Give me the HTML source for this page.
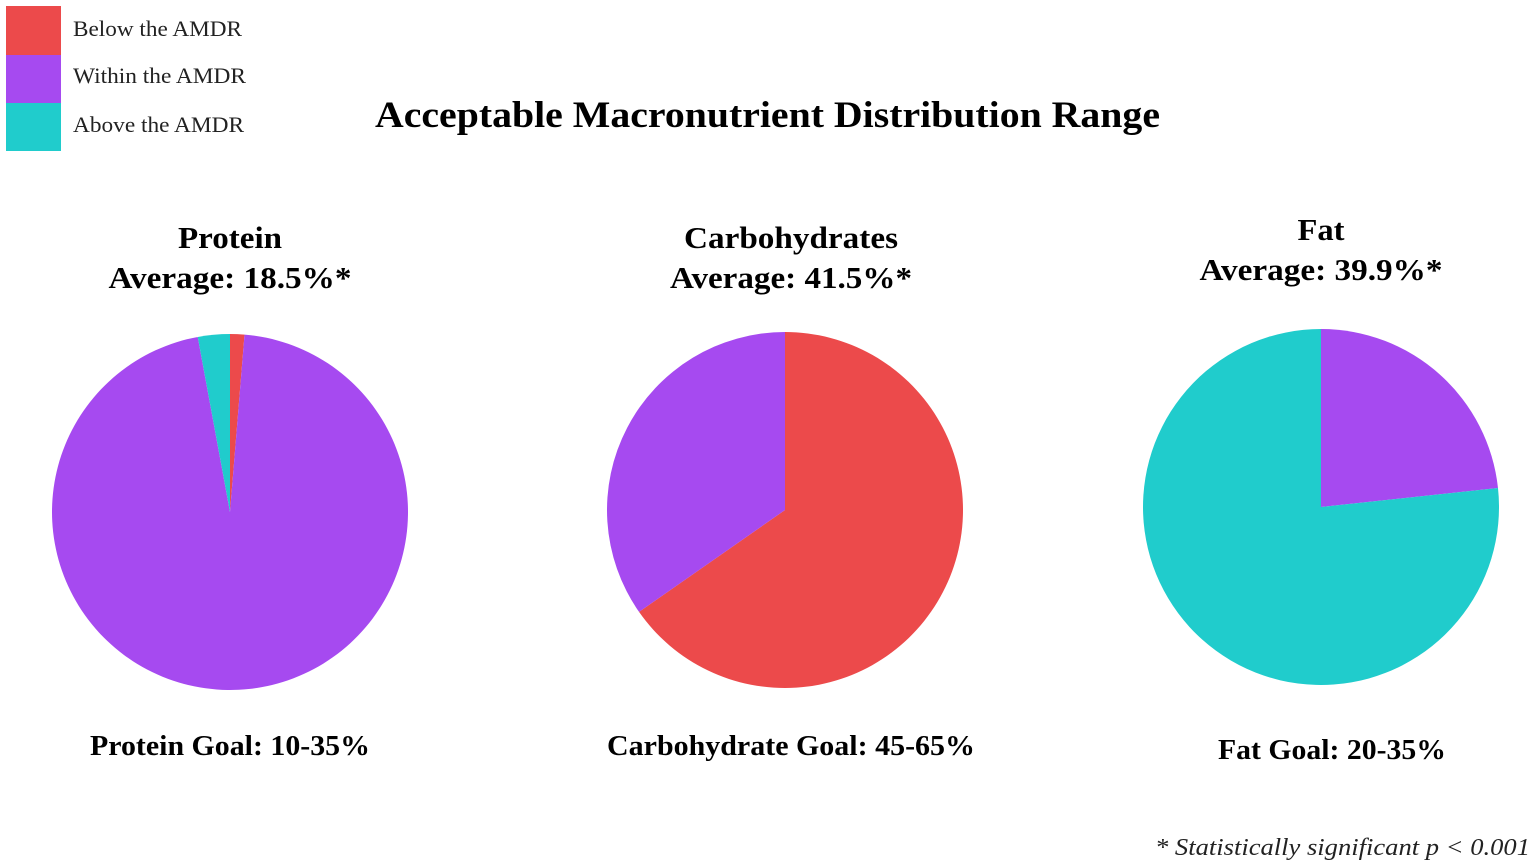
<!DOCTYPE html>
<html><head><meta charset="utf-8"><style>
body{margin:0;background:#fff;}
svg{display:block;font-family:"Liberation Serif",serif;}
</style></head><body>
<svg id="chart" width="1535" height="867" viewBox="0 0 1535 867">
<g>
<rect x="6" y="6" width="55" height="49" fill="#ec4a4b"/>
<rect x="6" y="55" width="55" height="48" fill="#a64af0"/>
<rect x="6" y="103" width="55" height="48" fill="#20cccc"/>
<text x="73" y="36" font-size="22" fill="#222" textLength="169" lengthAdjust="spacingAndGlyphs">Below the AMDR</text>
<text x="73" y="83" font-size="22" fill="#222" textLength="173" lengthAdjust="spacingAndGlyphs">Within the AMDR</text>
<text x="73" y="132" font-size="22" fill="#222" textLength="171" lengthAdjust="spacingAndGlyphs">Above the AMDR</text>
</g>
<text x="375" y="127" font-size="37" font-weight="bold" textLength="785" lengthAdjust="spacingAndGlyphs">Acceptable Macronutrient Distribution Range</text>
<g id="pies"></g>
<text x="1155" y="855" font-size="24" font-style="italic" fill="#222" textLength="375" lengthAdjust="spacingAndGlyphs">* Statistically significant p &lt; 0.001</text>
</svg>
<script>
const nutrients = ["Protein","Carbohydrates","Fat"];
const averages = ["Average: 18.5%*","Average: 41.5%*","Average: 39.9%*"];
const goals = ["Protein Goal: 10-35%","Carbohydrate Goal: 45-65%","Fat Goal: 20-35%"];
const belowValues = [1.3, 65.3, 0];
const withinValues = [95.8, 34.7, 23.3];
const aboveValues = [2.9, 0, 76.7];
const colors = ["#ec4a4b","#a64af0","#20cccc"];
const layout = [
 {cx:230, cy:512, r:178, tx:230, gx:230, t1:248, t2:288, g:755, w1:104, w2:243, wg:280},
 {cx:785, cy:510, r:178, tx:791, gx:791, t1:248, t2:288, g:755, w1:214, w2:242, wg:368},
 {cx:1321, cy:507, r:178, tx:1321, gx:1332, t1:240, t2:280, g:759, w1:47, w2:243, wg:228}
];
const NS="http://www.w3.org/2000/svg";
const g=document.getElementById('pies');
function pt(cx,cy,r,f){const a=f*2*Math.PI;return [cx+r*Math.sin(a), cy-r*Math.cos(a)];}
nutrients.forEach((n,i)=>{
 const L=layout[i];
 const vals=[belowValues[i],withinValues[i],aboveValues[i]];
 const tot=vals.reduce((a,b)=>a+b,0);
 let acc=0;
 vals.forEach((v,k)=>{
  if(v<=0)return;
  const f0=acc/tot, f1=(acc+v)/tot; acc+=v;
  const p=document.createElementNS(NS,'path');
  let d;
  if(f1-f0>=0.9999){d=`M${L.cx-L.r},${L.cy}a${L.r},${L.r} 0 1,0 ${2*L.r},0a${L.r},${L.r} 0 1,0 ${-2*L.r},0Z`;}
  else{const a=pt(L.cx,L.cy,L.r,f0),b=pt(L.cx,L.cy,L.r,f1);
  d=`M${L.cx},${L.cy}L${a[0]},${a[1]}A${L.r},${L.r} 0 ${f1-f0>0.5?1:0},1 ${b[0]},${b[1]}Z`;}
  p.setAttribute('d',d);p.setAttribute('fill',colors[k]);
  
  
  g.appendChild(p);
 });
 [[n,L.tx,L.t1,31,'title',L.w1],[averages[i],L.tx,L.t2,31,'average',L.w2],[goals[i],L.gx,L.g,29,'goal',L.wg]].forEach(([txt,x,y,fs,kind,w])=>{
  const t=document.createElementNS(NS,'text');
  t.setAttribute('x',x);t.setAttribute('y',y);t.setAttribute('font-size',fs);
  t.setAttribute('font-weight','bold');t.setAttribute('text-anchor','middle');
  t.setAttribute('textLength',w);t.setAttribute('lengthAdjust','spacingAndGlyphs');
  t.textContent=txt;
  
  
  g.appendChild(t);
 });
});
</script>
</body></html>
